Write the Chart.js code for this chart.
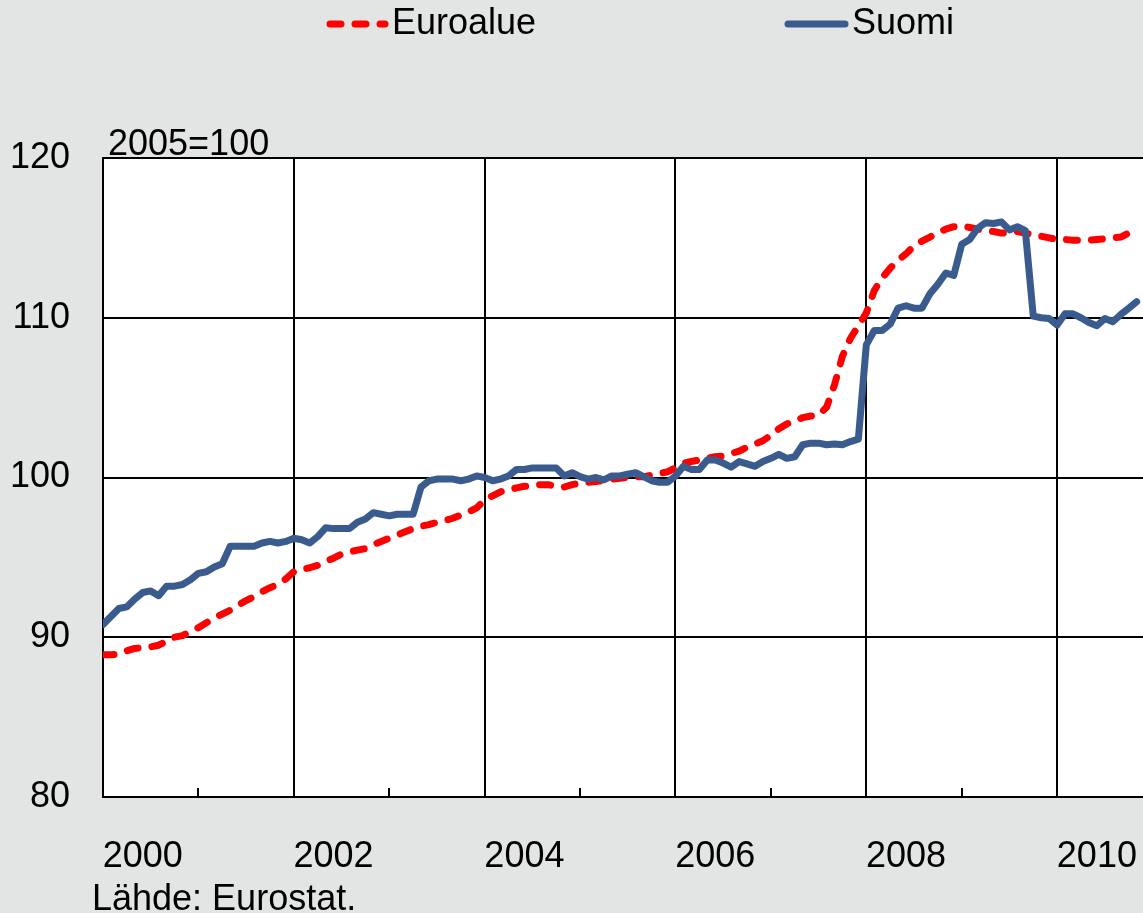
<!DOCTYPE html>
<html>
<head>
<meta charset="utf-8">
<script src="https://cdn.jsdelivr.net/npm/chart.js@4/dist/chart.umd.min.js"></script>
<style>
  body { margin: 0; background: #e3e5e4; }
  #wrap { width: 1143px; height: 913px; position: relative; }
</style>
</head>
<body>
<div id="wrap"><canvas id="myChart"></canvas></div>
<script>
const START_YEAR = 2000;
const YEAR_LABELS = [2000, 2002, 2004, 2006, 2008, 2010];
const GRID_YEARS = [2000, 2001, 2002, 2003, 2004, 2005, 2006, 2007, 2008, 2009, 2010];
const Y_TICKS = [80, 90, 100, 110, 120];

// monthly index, jan 2000 .. nov 2010
const EUROALUE = [
  88.9, 88.9, 88.95, 89.15, 89.3, 89.35, 89.4, 89.5, 89.75, 90.0, 90.1, 90.35,
  90.6, 90.9, 91.2, 91.45, 91.7, 92.0, 92.3, 92.55, 92.85, 93.1, 93.3, 93.65,
  94.1, 94.25, 94.35, 94.5, 94.75, 94.95, 95.2, 95.35, 95.45, 95.55, 95.8, 96.0,
  96.2, 96.4, 96.6, 96.8, 96.95, 97.05, 97.2, 97.3, 97.45, 97.65, 97.85, 98.1,
  98.6, 98.85, 99.1, 99.25, 99.35, 99.45, 99.5, 99.55, 99.55, 99.45, 99.4, 99.55,
  99.65, 99.7, 99.75, 99.8, 99.9, 99.95, 100.0, 100.05, 100.05, 100.15, 100.25, 100.35,
  100.6, 100.9, 101.0, 101.1, 101.2, 101.3, 101.35, 101.5, 101.65, 101.9, 102.1, 102.3,
  102.65, 103.05, 103.35, 103.55, 103.75, 103.85, 103.9, 104.4, 105.8, 107.6, 108.7, 109.5,
  110.3, 111.7, 112.5, 113.1, 113.6, 114.0, 114.5, 114.8, 115.05, 115.3, 115.55, 115.7,
  115.75, 115.65, 115.55, 115.45, 115.4, 115.3, 115.35, 115.4, 115.3, 115.2, 115.1, 115.0,
  114.9, 114.9, 114.85, 114.85, 114.85, 114.9, 114.95, 115.0, 115.05, 115.3, 115.45,
];
const SUOMI = [
  90.8, 91.3, 91.8, 91.9, 92.4, 92.8, 92.9, 92.6, 93.2, 93.2, 93.3, 93.6,
  94.0, 94.1, 94.4, 94.6, 95.7, 95.7, 95.7, 95.7, 95.9, 96.0, 95.9, 96.0,
  96.2, 96.1, 95.9, 96.3, 96.85, 96.8, 96.8, 96.8, 97.2, 97.4, 97.8, 97.7,
  97.6, 97.7, 97.7, 97.7, 99.4, 99.8, 99.9, 99.9, 99.9, 99.8, 99.9, 100.1,
  100.0, 99.8, 99.9, 100.1, 100.5, 100.5, 100.6, 100.6, 100.6, 100.6, 100.1, 100.3,
  100.05, 99.9, 100.0, 99.85, 100.1, 100.1, 100.2, 100.3, 100.05, 99.8, 99.7, 99.7,
  100.1, 100.7, 100.5, 100.5, 101.1, 101.1, 100.9, 100.65, 101.0, 100.85, 100.7, 101.0,
  101.2, 101.45, 101.2, 101.3, 102.05, 102.15, 102.15, 102.05, 102.1, 102.05, 102.25, 102.4,
  108.3, 109.2, 109.2, 109.6, 110.6, 110.75, 110.6, 110.6, 111.5, 112.1, 112.8, 112.65,
  114.6, 114.9, 115.6, 115.95, 115.9, 116.0, 115.5, 115.7, 115.45, 110.1, 110.0, 109.95,
  109.55, 110.25, 110.25, 110.0, 109.7, 109.5, 109.95, 109.75, 110.2, 110.6, 111.0,
];

const COLOR_EURO = '#ff0000';
const COLOR_SUOMI = '#3a5b8e';
const FONT = '"Liberation Sans", Arial, sans-serif';
const FONT_SIZE = 36;
const LINE_WIDTH = 7;
const X_MAX = 130.8;
const LABEL_SHIFT = 5; // year labels sit ~5 months into the year

const toMonth = (year) => (year - START_YEAR) * 12;
const toPoints = (values) => values.map((v, i) => ({x: i, y: v}));

Chart.defaults.font.family = FONT;
Chart.defaults.font.size = FONT_SIZE;
Chart.defaults.color = '#000';

/**
 * Removes the extra side padding chart.js keeps for edge labels.
 * @param {Scale} scale The scale being fitted.
 */
function noSidePadding(scale) {
  scale.paddingLeft = 0;
  scale.paddingRight = 0;
}

/**
 * Paints the white plot area, the inner tick marks for odd years,
 * the legend and the loose texts.
 */
const decorations = {
  id: 'decorations',
  beforeDraw(chart) {
    const {ctx, chartArea: a} = chart;
    ctx.save();
    ctx.fillStyle = '#fff';
    ctx.fillRect(a.left, a.top, a.right - a.left, a.bottom - a.top);
    ctx.restore();
  },
  afterDraw(chart) {
    const {ctx, chartArea: a} = chart;
    const x = chart.scales.x;
    ctx.save();
    ctx.strokeStyle = '#000';
    ctx.lineWidth = 2;
    GRID_YEARS.filter((y) => y % 2 === 1).forEach((y) => {
      const px = Math.round(x.getPixelForValue(toMonth(y)));
      ctx.beginPath();
      ctx.moveTo(px, a.bottom - 9);
      ctx.lineTo(px, a.bottom);
      ctx.stroke();
    });

    ctx.font = FONT_SIZE + 'px ' + FONT;
    ctx.fillStyle = '#000';
    ctx.textBaseline = 'alphabetic';
    ctx.textAlign = 'left';
    ctx.fillText('2005=100', 108, 155);
    ctx.fillText('Lähde: Eurostat.', 92, 910);

    // legend
    const items = [
      {ds: chart.data.datasets[0], x0: 327, x1: 388},
      {ds: chart.data.datasets[1], x0: 785, x1: 848},
    ];
    items.forEach((it) => {
      ctx.save();
      ctx.strokeStyle = it.ds.borderColor;
      ctx.lineWidth = it.ds.borderWidth;
      ctx.lineCap = 'round';
      ctx.setLineDash(it.ds.borderDash || []);
      ctx.beginPath();
      ctx.moveTo(it.x0 + 3, 24);
      ctx.lineTo(it.x1 - 3, 24);
      ctx.stroke();
      ctx.restore();
      ctx.textBaseline = 'middle';
      ctx.fillText(it.ds.label, it.x1 + 4, 24);
    });
    ctx.restore();
  },
};

new Chart(document.getElementById('myChart'), {
  type: 'line',
  data: {
    datasets: [
      {
        label: 'Euroalue',
        data: toPoints(EUROALUE),
        borderColor: COLOR_EURO,
        borderWidth: LINE_WIDTH,
        borderDash: [11, 14],
        borderCapStyle: 'round',
        borderJoinStyle: 'round',
        pointRadius: 0,
        tension: 0,
        order: 1,
      },
      {
        label: 'Suomi',
        data: toPoints(SUOMI),
        borderColor: COLOR_SUOMI,
        borderWidth: LINE_WIDTH,
        borderCapStyle: 'round',
        borderJoinStyle: 'round',
        pointRadius: 0,
        tension: 0,
        order: 0,
      },
    ],
  },
  options: {
    responsive: true,
    maintainAspectRatio: false,
    devicePixelRatio: 1,
    animation: false,
    layout: {padding: {top: 158, left: 0, right: 0, bottom: 0}},
    plugins: {
      legend: {display: false},
      tooltip: {enabled: false},
    },
    scales: {
      x: {
        type: 'linear',
        position: 'bottom',
        min: 0,
        max: X_MAX,
        afterBuildTicks: (scale) => {
          scale.ticks = GRID_YEARS.map((y) => ({value: toMonth(y)}));
        },
        afterFit: (scale) => {
          scale.height = 0;
          noSidePadding(scale);
        },
        ticks: {display: false},
        grid: {
          drawTicks: false,
          lineWidth: 2,
          color: (c) => (c.tick && c.tick.value % 24 === 0) ? '#000' : 'rgba(0,0,0,0)',
        },
        border: {display: true, color: '#000', width: 2},
      },
      xLabels: {
        type: 'linear',
        position: 'bottom',
        min: 0,
        max: X_MAX,
        afterBuildTicks: (scale) => {
          scale.ticks = YEAR_LABELS.map((y) => ({value: toMonth(y) + LABEL_SHIFT}));
        },
        afterFit: (scale) => {
          scale.height = 116;
          noSidePadding(scale);
        },
        ticks: {
          padding: 38,
          maxRotation: 0,
          autoSkip: false,
          callback: (value) => String(START_YEAR + Math.round((value - LABEL_SHIFT) / 12)),
        },
        grid: {display: false, drawTicks: false},
        border: {display: false},
      },
      y: {
        min: 80,
        max: 120,
        afterBuildTicks: (scale) => {
          scale.ticks = Y_TICKS.map((v) => ({value: v}));
        },
        afterFit: (scale) => {
          scale.width = 103;
          scale.paddingTop = 0;
          scale.paddingBottom = 0;
        },
        ticks: {padding: 33},
        grid: {drawTicks: false, lineWidth: 2, color: '#000'},
        border: {display: true, color: '#000', width: 2},
      },
    },
  },
  plugins: [decorations],
});
</script>
</body>
</html>
